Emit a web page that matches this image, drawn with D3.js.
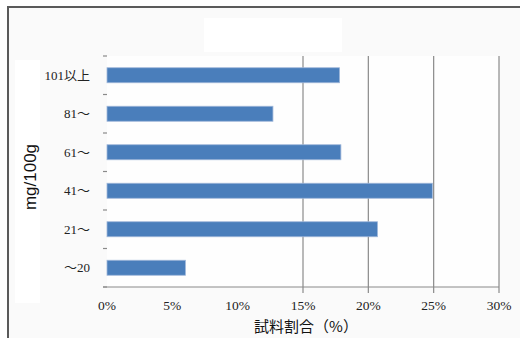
<!DOCTYPE html>
<html>
<head>
<meta charset="utf-8">
<script src="https://cdn.jsdelivr.net/npm/d3@7"></script>
<style>
  html, body { margin: 0; padding: 0; background: #ffffff; }
  svg { display: block; }
</style>
</head>
<body>
<svg id="chart" width="520" height="338"></svg>
<script>
// Share of samples per content range (mg/100g)
const categories = ["101以上", "81～", "61～", "41～", "21～", "～20"];
const shares = [17.8, 12.7, 17.9, 24.9, 20.7, 6.0];
const xTicks = [0, 5, 10, 15, 20, 25, 30];
const gridTicks = [15, 20, 25, 30];
const xTitle = "試料割合（%）";
const yTitle = "mg/100g";

const svg = d3.select("#chart");
const W = 520, H = 338;

const plot = { left: 107, right: 499, top: 56, bottom: 287 };

const x = d3.scaleLinear().domain([0, 30]).range([plot.left, plot.right]);
const y = d3.scaleBand().domain(categories)
  .range([plot.top, plot.bottom])
  .paddingInner(0.61).paddingOuter(0.305);

// chart frame and background
svg.append("rect").attr("x", 0).attr("y", 0).attr("width", W).attr("height", H).attr("fill", "#ffffff");
svg.append("rect").attr("x", 8).attr("y", 7).attr("width", W).attr("height", H)
  .attr("fill", "#fafafa").attr("stroke", "#5a5a5a").attr("stroke-width", 2);

// empty title box
svg.append("rect").attr("x", 204).attr("y", 18).attr("width", 138).attr("height", 34).attr("fill", "#ffffff");
// y-axis title box
svg.append("rect").attr("x", 15).attr("y", 60).attr("width", 25).attr("height", 243).attr("fill", "#ffffff");

// plot area
svg.append("rect").attr("x", plot.left).attr("y", plot.top)
  .attr("width", plot.right - plot.left).attr("height", plot.bottom - plot.top)
  .attr("fill", "#fefefe");

// vertical gridlines
svg.append("g").selectAll("line").data(gridTicks).join("line")
  .attr("x1", d => x(d)).attr("x2", d => x(d))
  .attr("y1", plot.top).attr("y2", plot.bottom + 6)
  .attr("stroke", "#8a8a8a").attr("stroke-width", 1.2);

// bottom axis line
svg.append("line")
  .attr("x1", plot.left - 4).attr("x2", plot.right)
  .attr("y1", plot.bottom).attr("y2", plot.bottom)
  .attr("stroke", "#8a8a8a").attr("stroke-width", 1.2);

// category boundary ticks on the left
const step = y.step();
svg.append("g").selectAll("line").data(d3.range(categories.length + 1)).join("line")
  .attr("x1", plot.left - 4).attr("x2", plot.left)
  .attr("y1", i => plot.top + i * step).attr("y2", i => plot.top + i * step)
  .attr("stroke", "#8a8a8a").attr("stroke-width", 1.2);

// bars
svg.append("g").selectAll("rect").data(categories).join("rect")
  .attr("x", x(0))
  .attr("y", d => y(d))
  .attr("width", (d, i) => x(shares[i]) - x(0))
  .attr("height", y.bandwidth())
  .attr("fill", "#4a7ebb")
  .attr("stroke", "#9fb7da").attr("stroke-width", 0.8);

// category labels
svg.append("g").selectAll("text").data(categories).join("text")
  .attr("x", 90)
  .attr("y", d => y(d) + y.bandwidth() / 2)
  .attr("dy", "0.35em")
  .attr("text-anchor", "end")
  .attr("font-family", "'Liberation Serif', 'Noto Sans CJK JP', serif")
  .attr("font-size", 13)
  .attr("fill", "#222")
  .text(d => d);

// x tick labels
svg.append("g").selectAll("text").data(xTicks).join("text")
  .attr("x", d => x(d))
  .attr("y", 310)
  .attr("text-anchor", "middle")
  .attr("font-family", "'Liberation Serif', serif")
  .attr("font-size", 13.5)
  .attr("fill", "#222")
  .text(d => d + "%");

// axis titles
svg.append("text")
  .attr("x", 306).attr("y", 332)
  .attr("text-anchor", "middle")
  .attr("font-family", "'Noto Sans CJK JP', sans-serif")
  .attr("font-size", 15)
  .attr("fill", "#111")
  .text(xTitle);

svg.append("text")
  .attr("transform", "translate(36,177) rotate(-90)")
  .attr("text-anchor", "middle")
  .attr("font-family", "'Liberation Sans', Arial, sans-serif")
  .attr("font-size", 17)
  .attr("fill", "#111")
  .text(yTitle);
</script>
</body>
</html>
